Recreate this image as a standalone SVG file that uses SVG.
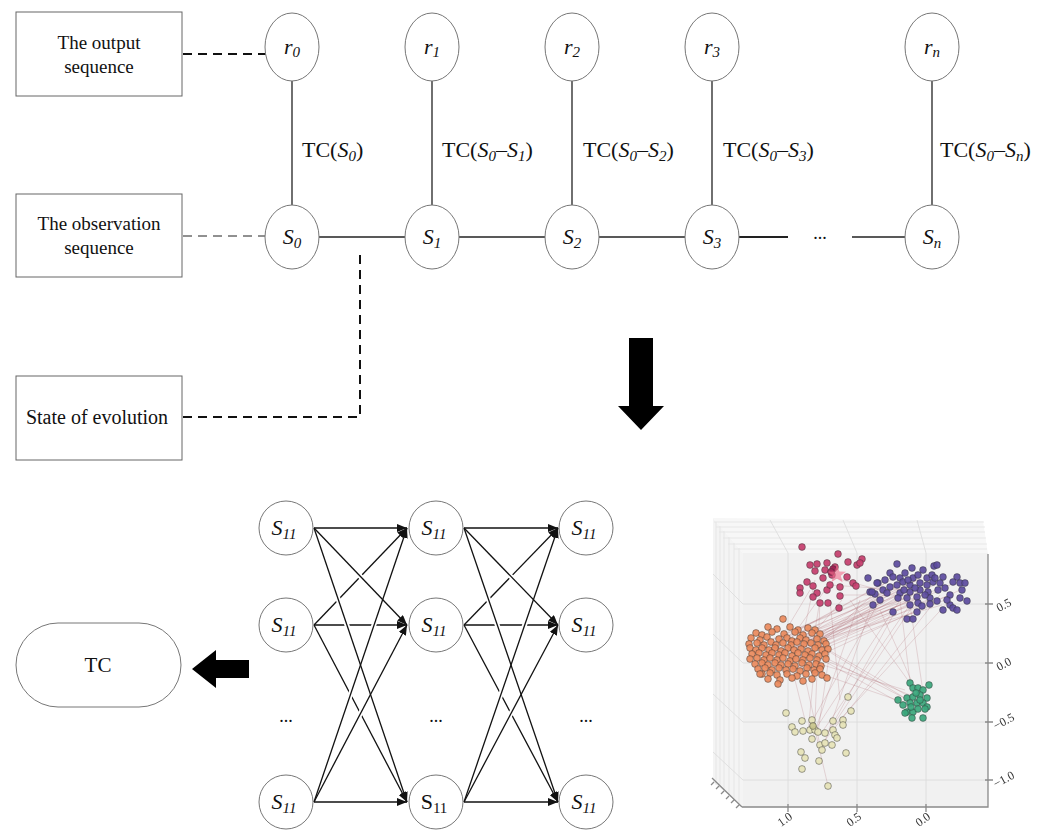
<svg xmlns="http://www.w3.org/2000/svg" width="1047" height="832" viewBox="0 0 1047 832">
<style>
text{font-family:"Liberation Serif","Times New Roman",serif;fill:#111}
.box{fill:#fff;stroke:#666;stroke-width:1}
.node{fill:#fff;stroke:#777;stroke-width:1}
.lbl{font-size:19px;text-anchor:middle}
.nt{font-size:22px;text-anchor:middle;font-style:italic}
.it{font-style:italic}
.sub{font-size:15px;font-style:italic}
.tc{font-size:22px}
.line{stroke:#222;stroke-width:1.3;fill:none}
.edge{stroke:#111;stroke-width:1.3;fill:none;marker-end:url(#ah)}
.halo{stroke:#fff;stroke-width:5;fill:none}
.dash2{stroke:#111;stroke-width:2;stroke-dasharray:9 6;fill:none}
.dash1{stroke:#222;stroke-width:1;stroke-dasharray:9 6;fill:none}
.grid{stroke:#dadada;stroke-width:.8;fill:none}
.pane{stroke:#e3e3e3;stroke-width:.8;fill:none}
.ax{stroke:#8a8a8a;stroke-width:1.3;fill:none}
.tick{font-size:12px;fill:#333}
.pt circle{stroke:#333;stroke-opacity:.65;stroke-width:.7;fill-opacity:.92}
.r circle{fill:#c63d6d}
.p circle{fill:#5b4b9e}
.o circle{fill:#ea8a5c}
.g circle{fill:#3aa77c}
.y circle{fill:#e6e3b6}
.links{stroke:#a55562;stroke-opacity:.3;stroke-width:.7;fill:none}
</style>
<defs>
<marker id="ah" markerUnits="userSpaceOnUse" markerWidth="10" markerHeight="8" refX="10" refY="4" orient="auto">
<path d="M0,0 L10,4 L0,8 Z" fill="#111"/>
</marker>
<filter id="soft" x="-5%" y="-5%" width="110%" height="110%">
<feGaussianBlur stdDeviation="0.45"/>
</filter>
</defs>
<rect width="1047" height="832" fill="#fff"/>

<!-- side boxes -->
<g id="box-output"><rect class="box" x="16" y="12" width="166" height="84"/><text class="lbl" x="99" y="49">The output</text><text class="lbl" x="99" y="73">sequence</text></g>
<g id="box-observation"><rect class="box" x="16" y="194" width="166" height="83"/><text class="lbl" x="99" y="230">The observation</text><text class="lbl" x="99" y="254">sequence</text></g>
<g id="box-evolution"><rect class="box" x="16" y="376" width="166" height="84"/><text class="lbl" x="97" y="424" style="font-size:20px">State of evolution</text></g>

<!-- connectors of the upper chain -->
<g id="connectors-top">
<line class="dash2" x1="183" y1="54" x2="266" y2="54"/>
<line class="dash1" x1="183" y1="236" x2="265" y2="236"/>
<polyline class="dash2" points="183,417 360,417 360,249"/>
<line class="line" x1="292" y1="81" x2="292" y2="205"/>
<line class="line" x1="432" y1="81" x2="432" y2="205"/>
<line class="line" x1="572" y1="81" x2="572" y2="205"/>
<line class="line" x1="712" y1="81" x2="712" y2="205"/>
<line class="line" x1="932" y1="81" x2="932" y2="205"/>
<line class="line" x1="319" y1="237" x2="405" y2="237"/>
<line class="line" x1="459" y1="237" x2="545" y2="237"/>
<line class="line" x1="599" y1="237" x2="685" y2="237"/>
<line class="line" x1="739" y1="237" x2="788" y2="237" style="stroke-width:1.8"/>
<line class="line" x1="852" y1="237" x2="905" y2="237"/>
</g>
<text x="820" y="239" style="font-size:18px;text-anchor:middle">...</text>

<!-- TC labels -->
<text class="tc" x="302" y="157">TC(<tspan class="it">S</tspan><tspan class="sub" dy="4">0</tspan><tspan dy="-4">)</tspan></text>
<text class="tc" x="442" y="157">TC(<tspan class="it">S</tspan><tspan class="sub" dy="4">0</tspan><tspan dy="-4">–</tspan><tspan class="it">S</tspan><tspan class="sub" dy="4">1</tspan><tspan dy="-4">)</tspan></text>
<text class="tc" x="583" y="157">TC(<tspan class="it">S</tspan><tspan class="sub" dy="4">0</tspan><tspan dy="-4">–</tspan><tspan class="it">S</tspan><tspan class="sub" dy="4">2</tspan><tspan dy="-4">)</tspan></text>
<text class="tc" x="723" y="157">TC(<tspan class="it">S</tspan><tspan class="sub" dy="4">0</tspan><tspan dy="-4">–</tspan><tspan class="it">S</tspan><tspan class="sub" dy="4">3</tspan><tspan dy="-4">)</tspan></text>
<text class="tc" x="940" y="157">TC(<tspan class="it">S</tspan><tspan class="sub" dy="4">0</tspan><tspan dy="-4">–</tspan><tspan class="it">S</tspan><tspan class="sub" dy="4">n</tspan><tspan dy="-4">)</tspan></text>

<!-- output nodes -->
<g id="r0"><ellipse class="node" cx="292" cy="47" rx="27" ry="34"/><text class="nt" x="292" y="54">r<tspan class="sub" dy="3">0</tspan></text></g>
<g id="r1"><ellipse class="node" cx="432" cy="47" rx="27" ry="34"/><text class="nt" x="432" y="54">r<tspan class="sub" dy="3">1</tspan></text></g>
<g id="r2"><ellipse class="node" cx="572" cy="47" rx="27" ry="34"/><text class="nt" x="572" y="54">r<tspan class="sub" dy="3">2</tspan></text></g>
<g id="r3"><ellipse class="node" cx="712" cy="47" rx="27" ry="34"/><text class="nt" x="712" y="54">r<tspan class="sub" dy="3">3</tspan></text></g>
<g id="rn"><ellipse class="node" cx="932" cy="47" rx="27" ry="34"/><text class="nt" x="932" y="54">r<tspan class="sub" dy="3">n</tspan></text></g>

<!-- observation nodes -->
<g id="s0"><ellipse class="node" cx="292" cy="237" rx="27" ry="32"/><text class="nt" x="292" y="244">S<tspan class="sub" dy="4">0</tspan></text></g>
<g id="s1"><ellipse class="node" cx="432" cy="237" rx="27" ry="32"/><text class="nt" x="432" y="244">S<tspan class="sub" dy="4">1</tspan></text></g>
<g id="s2"><ellipse class="node" cx="572" cy="237" rx="27" ry="32"/><text class="nt" x="572" y="244">S<tspan class="sub" dy="4">2</tspan></text></g>
<g id="s3"><ellipse class="node" cx="712" cy="237" rx="27" ry="32"/><text class="nt" x="712" y="244">S<tspan class="sub" dy="4">3</tspan></text></g>
<g id="sn"><ellipse class="node" cx="932" cy="237" rx="27" ry="32"/><text class="nt" x="932" y="244">S<tspan class="sub" dy="4">n</tspan></text></g>

<!-- block arrows -->
<path id="arrow-down" d="M629,338 H653 V406 H664 L641,430 L618,406 H629 Z" fill="#000"/>
<path id="arrow-left" d="M249,660 V678 H216 V688 L192,669 L216,650 V660 Z" fill="#000"/>

<!-- result node -->
<g id="tc"><rect class="node" x="16" y="623" width="165" height="84" rx="42" ry="42"/><text x="98" y="672" style="font-size:21px;text-anchor:middle">TC</text></g>

<!-- transitions of the state lattice -->
<g id="connectors-lattice">
<line class="edge" x1="314" y1="625" x2="407" y2="528"/>
<line class="edge" x1="314" y1="625" x2="407" y2="625"/>
<line class="edge" x1="314" y1="625" x2="407" y2="802"/>
<line class="edge" x1="464" y1="625" x2="558" y2="528"/>
<line class="edge" x1="464" y1="625" x2="558" y2="625"/>
<line class="edge" x1="464" y1="625" x2="558" y2="802"/>
<path class="halo" d="M328,542.6 L390,607.5 M328,569 L390,752.7 M328,761 L390,577.3 M328,775.5 L390,656.9 M478,542.6 L541,607.5 M478,569 L541,752.7 M478,761 L541,577.3 M478,775.5 L541,656.9"/>
<line class="edge" x1="314" y1="528" x2="407" y2="528"/>
<line class="edge" x1="314" y1="528" x2="407" y2="625"/>
<line class="edge" x1="314" y1="528" x2="407" y2="802"/>
<line class="edge" x1="314" y1="802" x2="407" y2="528"/>
<line class="edge" x1="314" y1="802" x2="407" y2="625"/>
<line class="edge" x1="314" y1="802" x2="407" y2="802"/>
<line class="edge" x1="464" y1="528" x2="558" y2="528"/>
<line class="edge" x1="464" y1="528" x2="558" y2="625"/>
<line class="edge" x1="464" y1="528" x2="558" y2="802"/>
<line class="edge" x1="464" y1="802" x2="558" y2="528"/>
<line class="edge" x1="464" y1="802" x2="558" y2="625"/>
<line class="edge" x1="464" y1="802" x2="558" y2="802"/>
</g>

<!-- lattice nodes -->
<g id="a1"><circle class="node" cx="286" cy="528" r="27"/><text class="nt" x="284" y="535">S<tspan class="sub" dy="4">11</tspan></text></g>
<g id="a2"><circle class="node" cx="286" cy="625" r="27"/><text class="nt" x="284" y="632">S<tspan class="sub" dy="4">11</tspan></text></g>
<g id="a3"><text x="286" y="722" style="font-size:18px;text-anchor:middle">...</text></g>
<g id="a4"><circle class="node" cx="286" cy="802" r="27"/><text class="nt" x="284" y="809">S<tspan class="sub" dy="4">11</tspan></text></g>
<g id="b1"><circle class="node" cx="436" cy="528" r="27"/><text class="nt" x="434" y="535">S<tspan class="sub" dy="4">11</tspan></text></g>
<g id="b2"><circle class="node" cx="436" cy="625" r="27"/><text class="nt" x="434" y="632">S<tspan class="sub" dy="4">11</tspan></text></g>
<g id="b3"><text x="436" y="722" style="font-size:18px;text-anchor:middle">...</text></g>
<g id="b4"><circle class="node" cx="436" cy="802" r="27"/><text x="434" y="809" style="font-size:22px;text-anchor:middle">S<tspan dy="4" style="font-size:15px">11</tspan></text></g>
<g id="c1"><circle class="node" cx="586" cy="528" r="27"/><text class="nt" x="584" y="535">S<tspan class="sub" dy="4">11</tspan></text></g>
<g id="c2"><circle class="node" cx="586" cy="625" r="27"/><text class="nt" x="584" y="632">S<tspan class="sub" dy="4">11</tspan></text></g>
<g id="c3"><text x="586" y="722" style="font-size:18px;text-anchor:middle">...</text></g>
<g id="c4"><circle class="node" cx="586" cy="802" r="27"/><text class="nt" x="584" y="809">S<tspan class="sub" dy="4">11</tspan></text></g>

<!-- 3D cluster scatter plot -->
<g id="cluster-plot">
<g filter="url(#soft)">
<polygon points="713,518 983,521 988,554 743,553" fill="#f7f7f7"/>
<polygon points="713,518 743,553 743,807 713,782" fill="#f4f4f4"/>
<rect x="743" y="553" width="245" height="254" fill="#f1f1f1"/>
<path class="pane" d="M714,522 H984 M716,527 H985 M719,532 H985 M723,538 H986 M728,544 H987 M734,549 H987 M716,522 V785 M720,526 V788 M724,531 V792 M729,537 V796 M734,543 V800 M739,548 V804"/>
<path class="grid" d="M770,520 L788,553 M843,520 L857,553 M917,520 L926,553 M788,553 V807 M857,553 V807 M926,553 V807 M743,604 H988 M743,663 H988 M743,722 H988 M743,780 H988 M713,574 L743,604 M713,634 L743,663 M713,694 L743,722 M713,752 L743,780"/>
<path class="links" d="M770,640L900,585 M780,645L910,590 M790,650L920,588 M800,648L930,592 M810,640L905,582 M785,655L895,595 M775,650L915,600 M795,660L925,580 M805,655L940,590 M815,645L950,595 M760,645L890,590 M790,635L900,575 M800,640L935,585 M820,650L945,600 M780,660L910,600 M770,655L880,595 M810,660L960,590 M795,645L928,600 M785,640L918,580 M805,650L907,605 M765,648L875,588 M812,652L890,578 M798,637L912,596 M788,662L935,598 M775,642L897,592 M793,653L905,598 M803,643L922,577 M783,650L942,605 M808,646L885,600 M768,660L900,605 M818,640L915,585 M790,642L950,585 M815,580L800,650 M825,590L790,640 M830,585L905,590 M840,595L920,595 M820,600L810,660 M810,590L780,640 M835,578L880,590 M842,600L795,655 M815,730L900,600 M820,735L920,590 M825,740L940,595 M810,725L880,600 M805,720L790,660 M820,745L800,655 M830,730L910,610 M812,740L860,600 M818,732L830,650 M835,725L950,600 M828,786L815,730 M822,750L870,610 M826,736L895,612 M808,733L815,660 M910,695L800,650 M915,700L820,645 M905,690L790,655 M918,705L830,660 M912,698L900,600 M920,700L880,610 M908,700L810,640 M915,690L850,600 M925,705L910,605 M903,702L780,660 M913,710L795,645 M830,600L840,700 M820,600L815,720"/>
<g class="pt r">
<circle cx="802" cy="547" r="3.4"/><circle cx="838" cy="554" r="3.4"/><circle cx="810" cy="565" r="3.4"/><circle cx="817" cy="564" r="3.4"/><circle cx="815" cy="571" r="3.4"/><circle cx="827" cy="563" r="3.4"/><circle cx="835" cy="567" r="3.4"/><circle cx="832" cy="575" r="3.4"/><circle cx="848" cy="562" r="3.4"/><circle cx="857" cy="565" r="3.4"/><circle cx="862" cy="559" r="3.4"/><circle cx="860" cy="563" r="3.4"/><circle cx="847" cy="577" r="3.4"/><circle cx="823" cy="578" r="3.4"/><circle cx="807" cy="582" r="3.4"/><circle cx="813" cy="586" r="3.4"/><circle cx="800" cy="588" r="3.4"/><circle cx="800" cy="593" r="3.4"/><circle cx="817" cy="593" r="3.4"/><circle cx="813" cy="597" r="3.4"/><circle cx="827" cy="590" r="3.4"/><circle cx="830" cy="585" r="3.4"/><circle cx="840" cy="587" r="3.4"/><circle cx="840" cy="596" r="3.4"/><circle cx="853" cy="583" r="3.4"/><circle cx="856" cy="586" r="3.4"/><circle cx="820" cy="603" r="3.4"/><circle cx="828" cy="603" r="3.4"/><circle cx="839" cy="608" r="3.4"/><circle cx="825" cy="570" r="3.4"/><circle cx="833" cy="569" r="3.4" style="fill:#9c2152"/><circle cx="831" cy="572" r="3.4" style="fill:#a82a5a"/>
</g>
<polygon points="837,565 839.4,571.5 846,571.7 840.8,575.8 842.6,582.3 837,578.5 831.4,582.3 833.2,575.8 828,571.7 834.6,571.5" fill="#f26a8a" fill-opacity=".6"/>
<g class="pt p">
<circle cx="897" cy="564" r="3.4"/><circle cx="912" cy="568" r="3.4"/><circle cx="934" cy="566" r="3.4"/><circle cx="937" cy="565" r="3.4"/><circle cx="923" cy="570" r="3.4"/><circle cx="890" cy="573" r="3.4"/><circle cx="868" cy="578" r="3.4"/><circle cx="878" cy="583" r="3.4"/><circle cx="893" cy="577" r="3.4"/><circle cx="900" cy="578" r="3.4"/><circle cx="903" cy="582" r="3.4"/><circle cx="913" cy="578" r="3.4"/><circle cx="918" cy="575" r="3.4"/><circle cx="927" cy="578" r="3.4"/><circle cx="932" cy="575" r="3.4"/><circle cx="943" cy="577" r="3.4"/><circle cx="957" cy="577" r="3.4"/><circle cx="953" cy="582" r="3.4"/><circle cx="960" cy="583" r="3.4"/><circle cx="965" cy="583" r="3.4"/><circle cx="940" cy="583" r="3.4"/><circle cx="933" cy="582" r="3.4"/><circle cx="927" cy="585" r="3.4"/><circle cx="920" cy="583" r="3.4"/><circle cx="910" cy="585" r="3.4"/><circle cx="897" cy="585" r="3.4"/><circle cx="890" cy="587" r="3.4"/><circle cx="883" cy="590" r="3.4"/><circle cx="870" cy="592" r="3.4"/><circle cx="875" cy="594" r="3.4"/><circle cx="887" cy="593" r="3.4"/><circle cx="900" cy="593" r="3.4"/><circle cx="910" cy="592" r="3.4"/><circle cx="920" cy="590" r="3.4"/><circle cx="928" cy="592" r="3.4"/><circle cx="938" cy="590" r="3.4"/><circle cx="950" cy="595" r="3.4"/><circle cx="960" cy="598" r="3.4"/><circle cx="967" cy="601" r="3.4"/><circle cx="937" cy="601" r="3.4"/><circle cx="930" cy="598" r="3.4"/><circle cx="917" cy="597" r="3.4"/><circle cx="907" cy="598" r="3.4"/><circle cx="910" cy="605" r="3.4"/><circle cx="918" cy="603" r="3.4"/><circle cx="950" cy="605" r="3.4"/><circle cx="953" cy="608" r="3.4"/><circle cx="957" cy="610" r="3.4"/><circle cx="943" cy="610" r="3.4"/><circle cx="917" cy="612" r="3.4"/><circle cx="907" cy="619" r="3.4"/><circle cx="913" cy="619" r="3.4"/><circle cx="893" cy="612" r="3.4"/><circle cx="880" cy="600" r="3.4"/><circle cx="873" cy="605" r="3.4"/><circle cx="877" cy="583" r="3.4"/><circle cx="872" cy="592" r="3.4"/><circle cx="905" cy="573" r="3.4"/><circle cx="915" cy="588" r="3.4"/><circle cx="925" cy="595" r="3.4"/><circle cx="945" cy="588" r="3.4"/><circle cx="935" cy="578" r="3.4"/><circle cx="908" cy="580" r="3.4"/><circle cx="898" cy="598" r="3.4"/><circle cx="922" cy="606" r="3.4"/><circle cx="930" cy="604" r="3.4"/><circle cx="885" cy="580" r="3.4"/><circle cx="947" cy="600" r="3.4"/><circle cx="962" cy="590" r="3.4"/><circle cx="904" cy="590" r="3.4"/>
</g>
<g class="pt o">
<circle cx="783" cy="619" r="3.4"/><circle cx="768" cy="627" r="3.4"/><circle cx="777" cy="629" r="3.4"/><circle cx="790" cy="627" r="3.4"/><circle cx="798" cy="630" r="3.4"/><circle cx="808" cy="628" r="3.4"/><circle cx="815" cy="630" r="3.4"/>
<circle cx="756" cy="633" r="3.4"/><circle cx="762" cy="635" r="3.4"/><circle cx="772" cy="632" r="3.4"/><circle cx="784" cy="634" r="3.4"/><circle cx="795" cy="632" r="3.4"/><circle cx="803" cy="635" r="3.4"/><circle cx="812" cy="633" r="3.4"/><circle cx="820" cy="634" r="3.4"/>
<circle cx="751" cy="638" r="3.4"/><circle cx="760" cy="640" r="3.4"/><circle cx="767" cy="637" r="3.4"/><circle cx="779" cy="639" r="3.4"/><circle cx="787" cy="638" r="3.4"/><circle cx="792" cy="641" r="3.4"/><circle cx="800" cy="638" r="3.4"/><circle cx="806" cy="640" r="3.4"/><circle cx="817" cy="639" r="3.4"/><circle cx="824" cy="641" r="3.4"/>
<circle cx="749" cy="644" r="3.4"/><circle cx="757" cy="643" r="3.4"/><circle cx="764" cy="645" r="3.4"/><circle cx="771" cy="642" r="3.4"/><circle cx="776" cy="645" r="3.4"/><circle cx="783" cy="643" r="3.4"/><circle cx="791" cy="645" r="3.4"/><circle cx="797" cy="642" r="3.4"/><circle cx="804" cy="644" r="3.4"/><circle cx="811" cy="643" r="3.4"/><circle cx="818" cy="645" r="3.4"/><circle cx="826" cy="644" r="3.4"/>
<circle cx="750" cy="648" r="3.4"/><circle cx="756" cy="650" r="3.4"/><circle cx="762" cy="648" r="3.4"/><circle cx="769" cy="650" r="3.4"/><circle cx="775" cy="648" r="3.4"/><circle cx="781" cy="651" r="3.4"/><circle cx="788" cy="648" r="3.4"/><circle cx="794" cy="650" r="3.4"/><circle cx="801" cy="649" r="3.4"/><circle cx="808" cy="651" r="3.4"/><circle cx="815" cy="648" r="3.4"/><circle cx="822" cy="650" r="3.4"/><circle cx="828" cy="649" r="3.4"/>
<circle cx="752" cy="654" r="3.4"/><circle cx="759" cy="653" r="3.4"/><circle cx="766" cy="655" r="3.4"/><circle cx="772" cy="653" r="3.4"/><circle cx="779" cy="655" r="3.4"/><circle cx="785" cy="653" r="3.4"/><circle cx="792" cy="656" r="3.4"/><circle cx="798" cy="653" r="3.4"/><circle cx="805" cy="655" r="3.4"/><circle cx="812" cy="654" r="3.4"/><circle cx="819" cy="656" r="3.4"/><circle cx="825" cy="654" r="3.4"/>
<circle cx="750" cy="659" r="3.4"/><circle cx="757" cy="658" r="3.4"/><circle cx="764" cy="660" r="3.4"/><circle cx="770" cy="658" r="3.4"/><circle cx="777" cy="660" r="3.4"/><circle cx="783" cy="658" r="3.4"/><circle cx="790" cy="661" r="3.4"/><circle cx="796" cy="659" r="3.4"/><circle cx="803" cy="660" r="3.4"/><circle cx="810" cy="658" r="3.4"/><circle cx="817" cy="660" r="3.4"/><circle cx="826" cy="659" r="3.4"/>
<circle cx="755" cy="664" r="3.4"/><circle cx="762" cy="663" r="3.4"/><circle cx="768" cy="665" r="3.4"/><circle cx="775" cy="663" r="3.4"/><circle cx="781" cy="665" r="3.4"/><circle cx="788" cy="664" r="3.4"/><circle cx="795" cy="666" r="3.4"/><circle cx="802" cy="663" r="3.4"/><circle cx="809" cy="665" r="3.4"/><circle cx="816" cy="664" r="3.4"/><circle cx="821" cy="666" r="3.4"/>
<circle cx="758" cy="669" r="3.4"/><circle cx="765" cy="668" r="3.4"/><circle cx="772" cy="670" r="3.4"/><circle cx="779" cy="668" r="3.4"/><circle cx="786" cy="670" r="3.4"/><circle cx="793" cy="669" r="3.4"/><circle cx="800" cy="671" r="3.4"/><circle cx="807" cy="668" r="3.4"/><circle cx="814" cy="670" r="3.4"/><circle cx="820" cy="669" r="3.4"/>
<circle cx="762" cy="674" r="3.4"/><circle cx="770" cy="673" r="3.4"/><circle cx="777" cy="675" r="3.4"/><circle cx="787" cy="674" r="3.4"/><circle cx="797" cy="676" r="3.4"/><circle cx="806" cy="674" r="3.4"/><circle cx="815" cy="673" r="3.4"/><circle cx="822" cy="675" r="3.4"/>
<circle cx="768" cy="679" r="3.4"/><circle cx="780" cy="680" r="3.4"/><circle cx="792" cy="678" r="3.4"/><circle cx="803" cy="681" r="3.4"/><circle cx="812" cy="679" r="3.4"/><circle cx="827" cy="678" r="3.4"/><circle cx="778" cy="684" r="3.4"/><circle cx="760" cy="674" r="3.4"/>
</g>
<g class="pt g">
<circle cx="910" cy="683" r="3.4"/><circle cx="929" cy="685" r="3.4"/><circle cx="913" cy="688" r="3.4"/><circle cx="918" cy="688" r="3.4"/><circle cx="923" cy="690" r="3.4"/><circle cx="898" cy="700" r="3.4"/><circle cx="907" cy="698" r="3.4"/><circle cx="913" cy="697" r="3.4"/><circle cx="920" cy="695" r="3.4"/><circle cx="927" cy="698" r="3.4"/><circle cx="910" cy="703" r="3.4"/><circle cx="917" cy="703" r="3.4"/><circle cx="923" cy="703" r="3.4"/><circle cx="927" cy="707" r="3.4"/><circle cx="907" cy="712" r="3.4"/><circle cx="913" cy="712" r="3.4"/><circle cx="905" cy="713" r="3.4"/><circle cx="925" cy="709" r="3.4"/><circle cx="912" cy="718" r="3.4"/><circle cx="923" cy="718" r="3.4"/><circle cx="916" cy="693" r="3.4"/><circle cx="920" cy="700" r="3.4"/><circle cx="911" cy="707" r="3.4"/><circle cx="918" cy="709" r="3.4"/><circle cx="903" cy="705" r="3.4"/>
</g>
<g class="pt y">
<circle cx="786" cy="713" r="3.4"/><circle cx="848" cy="697" r="3.4"/><circle cx="851" cy="711" r="3.4"/><circle cx="802" cy="721" r="3.4"/><circle cx="812" cy="720" r="3.4"/><circle cx="833" cy="721" r="3.4"/><circle cx="843" cy="720" r="3.4"/><circle cx="843" cy="725" r="3.4"/><circle cx="792" cy="727" r="3.4"/><circle cx="795" cy="732" r="3.4"/><circle cx="803" cy="731" r="3.4"/><circle cx="810" cy="730" r="3.4"/><circle cx="815" cy="730" r="3.4"/><circle cx="818" cy="732" r="3.4"/><circle cx="825" cy="733" r="3.4"/><circle cx="833" cy="730" r="3.4"/><circle cx="835" cy="735" r="3.4"/><circle cx="837" cy="738" r="3.4"/><circle cx="812" cy="739" r="3.4"/><circle cx="820" cy="745" r="3.4"/><circle cx="825" cy="743" r="3.4"/><circle cx="832" cy="745" r="3.4"/><circle cx="822" cy="750" r="3.4"/><circle cx="801" cy="752" r="3.4"/><circle cx="805" cy="758" r="3.4"/><circle cx="846" cy="753" r="3.4"/><circle cx="819" cy="761" r="3.4"/><circle cx="802" cy="769" r="3.4"/><circle cx="828" cy="786" r="3.4"/><circle cx="813" cy="726" r="3.4" style="fill:#c9c48a"/>
</g>
<path class="ax" d="M988,554 V807 H742 M712,778 L742,807 M985,604 H993 M985,663 H993 M985,722 H993 M985,780 H993 M788,804 V812 M857,804 V812 M926,804 V812 M714,782 l-3,3 M719,786 l-3,3 M724,791 l-3,3 M729,796 l-3,3 M734,800 l-3,3 M739,805 l-3,3"/>
<text class="tick" transform="translate(999,612) rotate(-28)">0.5</text>
<text class="tick" transform="translate(999,671) rotate(-28)">0.0</text>
<text class="tick" transform="translate(996,730) rotate(-28)">−0.5</text>
<text class="tick" transform="translate(996,788) rotate(-28)">−1.0</text>
<text class="tick" transform="translate(781,827) rotate(-35)">1.0</text>
<text class="tick" transform="translate(850,827) rotate(-35)">0.5</text>
<text class="tick" transform="translate(919,827) rotate(-35)">0.0</text>
</g>
</g>
</svg>
